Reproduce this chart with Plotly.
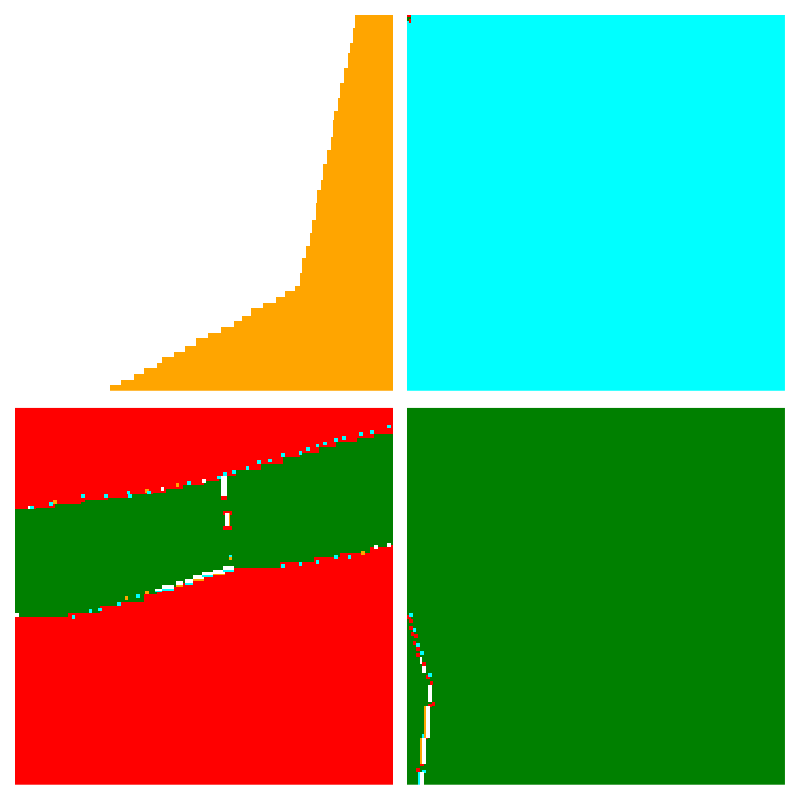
import numpy as np
import plotly.graph_objects as go
from plotly.subplots import make_subplots

# category codes -> colours
colour_names = ["white", "orange", "cyan", "red", "green"]
colour_hex = ["#ffffff", "#ffa500", "#00ffff", "#ff0000", "#008000"]
WHITE, ORANGE, CYAN, RED, GREEN = range(5)

# all panels use a 0..100 scale on both (hidden) axes
# top-left: white everywhere, orange to the right of a staircase boundary
tl_band_top = [1.3, 2.9, 4.5, 6.1, 7.7, 9.0, 10.6, 12.2, 13.8, 15.4,
               17.0, 18.6, 20.2, 21.8, 23.4, 25.0, 26.3, 27.9, 31.4, 35.6,
               38.3, 42.0, 45.5, 50.0, 53.5, 56.1, 60.6, 64.1, 67.6, 72.1,
               74.7, 78.2, 81.9, 86.2, 90.2, 92.6, 96.5, 100.0]
tl_orange_from = [24.9, 28.2, 31.3, 34.1, 37.3, 39.2, 41.9, 45.0, 47.9, 51.1,
                  54.5, 57.8, 60.0, 62.6, 65.7, 68.8, 71.4, 73.8, 75.4, 76.2,
                  77.2, 77.8, 78.6, 79.4, 80.2, 81.0, 81.7, 82.5, 83.3, 83.9,
                  84.7, 85.4, 86.2, 87.0, 87.8, 88.6, 89.4, 90.2]

# top-right: cyan, with a tiny mark in the corner
tr_spots = [(RED, 0.0, 0.9, 99.0, 100.0), (GREEN, 0.3, 0.8, 98.6, 99.2),
            (RED, 0.6, 1.0, 98.2, 98.7)]

# bottom-left: green band between two boundaries, red elsewhere
bl_upper_x = [0, 5.3, 10.6, 17.6, 24.7, 30.9, 36.6, 40.1, 44.5, 49.8,
              54.2, 58.6, 64.8, 71.0, 75.4, 80.7, 85.1, 90.4, 94.8]
bl_upper_y = [72.9, 73.7, 74.5, 75.3, 76.2, 76.9, 77.7, 78.4, 79.3, 80.4,
              82.2, 83.6, 84.9, 86.9, 88.0, 89.3, 91.1, 92.0, 93.1]
bl_lower_x = [0, 14.1, 22.5, 26.9, 33.9, 37.5, 41.0, 44.5, 47.2, 49.8,
              52.5, 57.8, 70.1, 78.9, 86.0, 93.9, 98.3]
bl_lower_y = [44.6, 45.7, 47.3, 48.6, 50.4, 51.3, 52.6, 53.5, 54.4, 55.4,
              56.8, 57.6, 59.2, 60.6, 61.5, 62.8, 63.4]

# speckles along the boundaries: (category, x, y)
bl_points = [(WHITE, 4.0, 73.7), (CYAN, 4.6, 73.7), (CYAN, 9.4, 74.7), (ORANGE, 10.6, 74.9),
             (CYAN, 17.9, 76.3), (RED, 17.9, 75.6), (CYAN, 24.1, 76.5), (CYAN, 30.2, 77.4),
             (CYAN, 30.4, 76.7), (ORANGE, 35.0, 77.8), (CYAN, 35.5, 77.6), (WHITE, 38.9, 78.4),
             (ORANGE, 42.8, 79.6), (CYAN, 46.0, 80.0), (WHITE, 50.1, 80.7), (CYAN, 53.8, 81.6),
             (CYAN, 55.6, 82.7), (CYAN, 57.8, 82.8), (CYAN, 61.3, 84.0), (CYAN, 64.6, 85.3),
             (CYAN, 67.7, 85.8), (CYAN, 71.2, 87.3), (CYAN, 75.4, 88.0), (CYAN, 77.6, 89.0),
             (CYAN, 80.2, 90.2), (CYAN, 82.0, 90.5), (CYAN, 85.1, 91.7), (CYAN, 86.9, 92.2),
             (CYAN, 91.3, 93.1), (CYAN, 94.4, 93.7), (CYAN, 99.0, 94.9),
             (WHITE, 0.4, 44.8), (CYAN, 15.4, 44.6), (CYAN, 19.8, 46.0), (CYAN, 22.5, 46.4),
             (CYAN, 27.3, 48.2), (ORANGE, 29.6, 49.3), (CYAN, 32.6, 49.9), (ORANGE, 35.0, 50.8),
             (CYAN, 56.9, 60.4), (ORANGE, 57.2, 60.2), (CYAN, 71.0, 58.1), (CYAN, 75.4, 58.6),
             (CYAN, 80.2, 59.2), (CYAN, 85.1, 60.4), (CYAN, 88.4, 60.6), (ORANGE, 91.9, 61.7),
             (WHITE, 95.7, 62.8), (WHITE, 98.8, 63.4)]
# elongated marks: (category, x0, x1, y0, y1)
bl_bars = [(CYAN, 37.0, 38.8, 51.0, 51.4), (WHITE, 37.0, 38.8, 51.5, 52.0),
           (CYAN, 39.4, 41.9, 51.8, 52.2), (WHITE, 39.4, 41.9, 52.3, 52.8),
           (ORANGE, 42.5, 44.5, 52.7, 53.1), (WHITE, 42.5, 44.5, 53.2, 53.7),
           (CYAN, 45.0, 47.0, 53.4, 53.8), (WHITE, 45.0, 47.0, 53.9, 54.4),
           (ORANGE, 47.2, 49.7, 54.2, 54.6), (WHITE, 47.2, 49.7, 54.7, 55.2),
           (CYAN, 49.7, 52.5, 55.1, 55.5), (WHITE, 49.7, 52.5, 55.6, 56.1),
           (ORANGE, 52.5, 55.1, 55.9, 56.3), (WHITE, 52.5, 55.1, 56.4, 56.9),
           (CYAN, 55.1, 57.8, 56.7, 57.1), (WHITE, 55.1, 57.8, 57.2, 57.7),
           (RED, 54.6, 56.0, 75.8, 76.5), (WHITE, 54.9, 55.8, 76.5, 81.9),
           (RED, 55.3, 57.2, 67.8, 68.5), (RED, 55.3, 57.2, 71.6, 72.3),
           (WHITE, 55.8, 56.5, 68.5, 71.6), (ORANGE, 56.5, 56.9, 68.5, 71.6)]

# bottom-right: green, with a thin white/orange seam near the left edge
br_bars = [(WHITE, 3.6, 4.0, 32.4, 34.0), (WHITE, 4.2, 4.8, 29.7, 31.3),
           (ORANGE, 5.5, 5.9, 22.0, 26.5), (WHITE, 5.9, 6.5, 22.0, 26.5),
           (ORANGE, 4.8, 5.2, 12.7, 20.7), (WHITE, 5.2, 5.7, 12.7, 20.7),
           (ORANGE, 3.9, 4.3, 5.8, 12.5), (WHITE, 4.3, 4.8, 5.8, 12.5),
           (CYAN, 3.2, 3.6, 0.0, 3.4), (WHITE, 3.6, 4.2, 0.0, 3.4)]
br_points = [(RED, 0.3, 44.6), (CYAN, 0.8, 45.2), (RED, 1.1, 43.5), (RED, 1.0, 41.5),
             (CYAN, 1.8, 41.0), (RED, 1.5, 40.0), (RED, 2.5, 39.5), (RED, 2.2, 37.5),
             (CYAN, 2.8, 37.0), (RED, 3.2, 36.0), (RED, 3.0, 34.5), (CYAN, 4.0, 35.0),
             (RED, 4.5, 32.0), (RED, 5.5, 28.5), (CYAN, 6.0, 29.0), (RED, 6.5, 27.0),
             (RED, 6.8, 21.5), (CYAN, 6.2, 20.8), (RED, 5.8, 20.9), (CYAN, 4.6, 13.0),
             (RED, 5.0, 12.6), (RED, 4.0, 5.5), (RED, 3.0, 3.8), (CYAN, 4.6, 3.6)]

N = 200
step = 100 / N
centers = (np.arange(N) + 0.5) * step
X, Y = np.meshgrid(centers, centers)


def paint(z, cat, x0, x1, y0, y1):
    i0 = int(np.floor(x0 / step)); i1 = max(i0, int(np.ceil(x1 / step)) - 1)
    j0 = int(np.floor(y0 / step)); j1 = max(j0, int(np.ceil(y1 / step)) - 1)
    z[max(j0, 0):min(j1, N - 1) + 1, max(i0, 0):min(i1, N - 1) + 1] = cat


def paint_points(z, points, r=0.3):
    for cat, x, y in points:
        paint(z, cat, x - r, x + r, y - r, y + r)


# top-left grid
z_tl = np.full((N, N), WHITE)
band = np.clip(np.searchsorted(tl_band_top, Y), 0, len(tl_band_top) - 1)
z_tl[X >= np.array(tl_orange_from)[band]] = ORANGE

# top-right grid
z_tr = np.full((N, N), CYAN)
for s in tr_spots:
    paint(z_tr, *s)

# bottom-left grid
up = np.array(bl_upper_y)[np.searchsorted(bl_upper_x, X, side="right") - 1]
low = np.array(bl_lower_y)[np.searchsorted(bl_lower_x, X, side="right") - 1]
z_bl = np.full((N, N), RED)
z_bl[(Y >= low) & (Y <= up)] = GREEN
paint_points(z_bl, bl_points)
for s in bl_bars:
    paint(z_bl, *s)

# bottom-right grid
z_br = np.full((N, N), GREEN)
paint_points(z_br, br_points)
for s in br_bars:
    paint(z_br, *s)

# discrete colourscale
scale = []
for k, c in enumerate(colour_hex):
    scale += [[k / 5, c], [(k + 1) / 5, c]]

fig = make_subplots(rows=2, cols=2)
for z, (r, c) in zip([z_tl, z_tr, z_bl, z_br], [(1, 1), (1, 2), (2, 1), (2, 2)]):
    fig.add_trace(go.Heatmap(z=z, x=centers, y=centers, colorscale=scale,
                             zmin=-0.5, zmax=4.5, showscale=False, hoverinfo="skip"),
                  row=r, col=c)

fig.update_xaxes(range=[0, 100], visible=False, showgrid=False)
fig.update_yaxes(range=[0, 100], visible=False, showgrid=False)
fig.update_layout(
    width=800, height=800,
    margin=dict(l=7, r=23, t=7, b=23),  # page body adds 8px offset
    plot_bgcolor="white", paper_bgcolor="white",
    xaxis=dict(domain=[0, 0.491]), xaxis2=dict(domain=[0.509, 1]),
    xaxis3=dict(domain=[0, 0.491]), xaxis4=dict(domain=[0.509, 1]),
    yaxis=dict(domain=[0.512, 1]), yaxis2=dict(domain=[0.512, 1]),
    yaxis3=dict(domain=[0, 0.49]), yaxis4=dict(domain=[0, 0.49]),
)

fig.write_html("out.html")
